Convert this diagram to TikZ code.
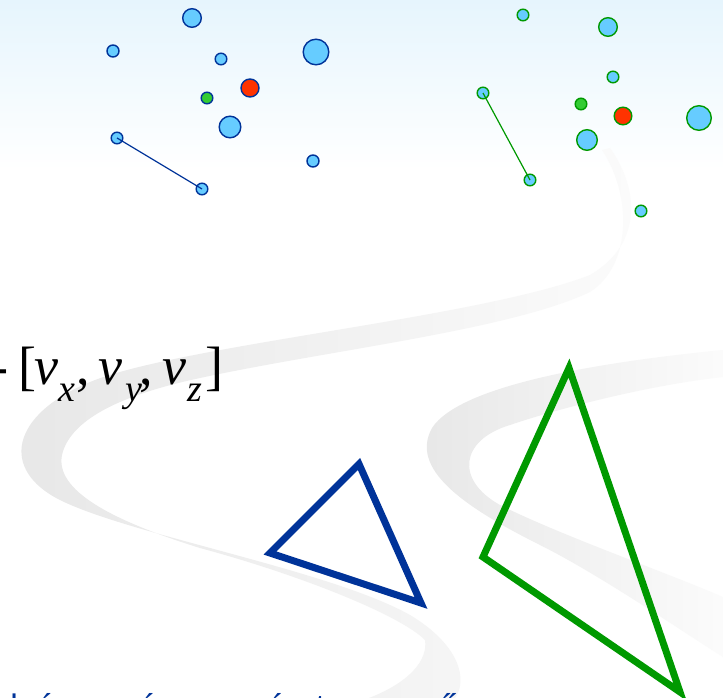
\documentclass[tikz,border=0pt]{standalone}
\usepackage{fontspec}
\usetikzlibrary{positioning}
\newfontfamily\vecfont{Liberation Serif}
\newfontfamily\capfont{Liberation Sans}
\definecolor{dotblue}{HTML}{66CCFF}
\definecolor{navy}{HTML}{003399}
\definecolor{leaf}{HTML}{009900}
\definecolor{lime}{HTML}{33CC33}
\definecolor{tomato}{HTML}{FF3300}
\definecolor{sky}{HTML}{E6F5FD}
\newcommand\vsub[1]{\raisebox{-.33em}{\fontsize{38}{38}\selectfont\itshape #1}}
\tikzset{%
   % vertex dots of the two point clouds
   pt/.style={
      circle,
      draw,
      line width=1.4pt,
      fill=dotblue,
      inner sep=0pt,
      outer sep=0pt,
      minimum size=#1
   },
   pt/.default=12pt,
   bpt/.style={pt=#1, draw=navy},
   bpt/.default=12pt,
   gpt/.style={pt=#1, draw=leaf},
   gpt/.default=12pt,
   edge/.style={line width=1.2pt},
   % triangles built from the points
   tri/.style={line width=7pt, line join=miter, miter limit=4},
   swoosh/.style={left color=gray!19, right color=gray!3, draw=none},
}

\begin{document}
\begin{tikzpicture}[x=1pt, y=-1pt]
  \useasboundingbox (0,0) rectangle (723,698);
  \clip (0,0) rectangle (723,698);
  % background
  \fill[white] (0,0) rectangle (723,698);
  \shade[top color=sky, bottom color=white] (0,0) rectangle (723,170);
  \shade[swoosh] (610,148) .. controls (640,190) and (642,245) .. (590,275)
     .. controls (480,318) and (180,345) .. (90,382)
     .. controls (10,415) and (0,470) .. (60,500)
     .. controls (130,535) and (330,570) .. (410,615)
     .. controls (460,645) and (468,680) .. (455,698)
     -- (369,698) .. controls (410,682) and (428,660) .. (425,640)
     .. controls (400,615) and (300,575) .. (200,548)
     .. controls (110,520) and (55,490) .. (62,455)
     .. controls (70,420) and (120,395) .. (200,378)
     .. controls (330,350) and (510,330) .. (590,292)
     .. controls (632,265) and (632,195) .. (602,150) -- cycle;
  \shade[swoosh] (723,350) .. controls (600,362) and (460,385) .. (432,428)
     .. controls (410,468) and (460,505) .. (540,545)
     .. controls (600,575) and (680,630) .. (723,657)
     -- (723,597) .. controls (660,570) and (560,535) .. (500,505)
     .. controls (455,480) and (460,440) .. (510,425)
     .. controls (560,408) and (650,385) .. (723,377) -- cycle;

  % left point cloud
  \node[bpt=18.6pt] (b1) at (192,18) {};
  \node[bpt] (b2) at (113,51) {};
  \node[bpt=11.6pt] (b3) at (221,59) {};
  \node[bpt=25.6pt] (b4) at (316,52) {};
  \node[bpt=18pt, fill=tomato] (b5) at (250,88) {};
  \node[bpt=11.6pt, fill=lime] (b6) at (207,98) {};
  \node[bpt=21.6pt] (b7) at (230,127) {};
  \node[bpt=11.6pt] (b8) at (117,138) {};
  \node[bpt=11.6pt] (b9) at (202,189) {};
  \node[bpt] (b10) at (313,161) {};
  \draw[edge, navy] (b8.center) -- (b9.center);

  % right point cloud
  \node[gpt=11.6pt] (g1) at (523,15) {};
  \node[gpt=18.6pt] (g2) at (608,27) {};
  \node[gpt=11.6pt] (g3) at (613,77) {};
  \node[gpt=11.6pt] (g4) at (483,93) {};
  \node[gpt=11.6pt, fill=lime] (g5) at (581,104) {};
  \node[gpt=17.6pt, fill=tomato] (g6) at (623,116) {};
  \node[gpt=24.6pt] (g7) at (699,118) {};
  \node[gpt=20.6pt] (g8) at (587,140) {};
  \node[gpt=11.6pt] (g9) at (530,180) {};
  \node[gpt=11.6pt] (g10) at (641,211) {};
  \draw[edge, leaf] (g4.center) -- (g9.center);

  % vertex vector
  \node[anchor=base west, inner sep=0pt, font=\vecfont\fontsize{54}{54}\selectfont] (vec) at (-10,384)
    {-\kern.2em[\kern-.05em\textit{v}\vsub{x}\kern.02em,\kern.165em\textit{v}\kern.05em\vsub{y}\kern-.04em,\kern.165em\textit{v}\kern.03em\vsub{z}\kern.05em]};

  % triangles
  \coordinate (t1) at (359,464);
  \coordinate (t2) at (270,553);
  \coordinate (t3) at (421,603);
  \draw[tri, navy] (t1) -- (t2) -- (t3) -- cycle;
  \coordinate (s1) at (569,368);
  \coordinate (s2) at (483,557);
  \coordinate (s3) at (680,692);
  \draw[tri, leaf] (s1) -- (s2) -- (s3) -- cycle;

  % caption, cut by the lower edge
  \node[anchor=base west, inner sep=0pt, text=navy, font=\capfont\fontsize{34}{34}\selectfont] (cap) at (-194,718)
    {Leírás hálóval, ám az ára: a mérete megnő};
\end{tikzpicture}
\end{document}
